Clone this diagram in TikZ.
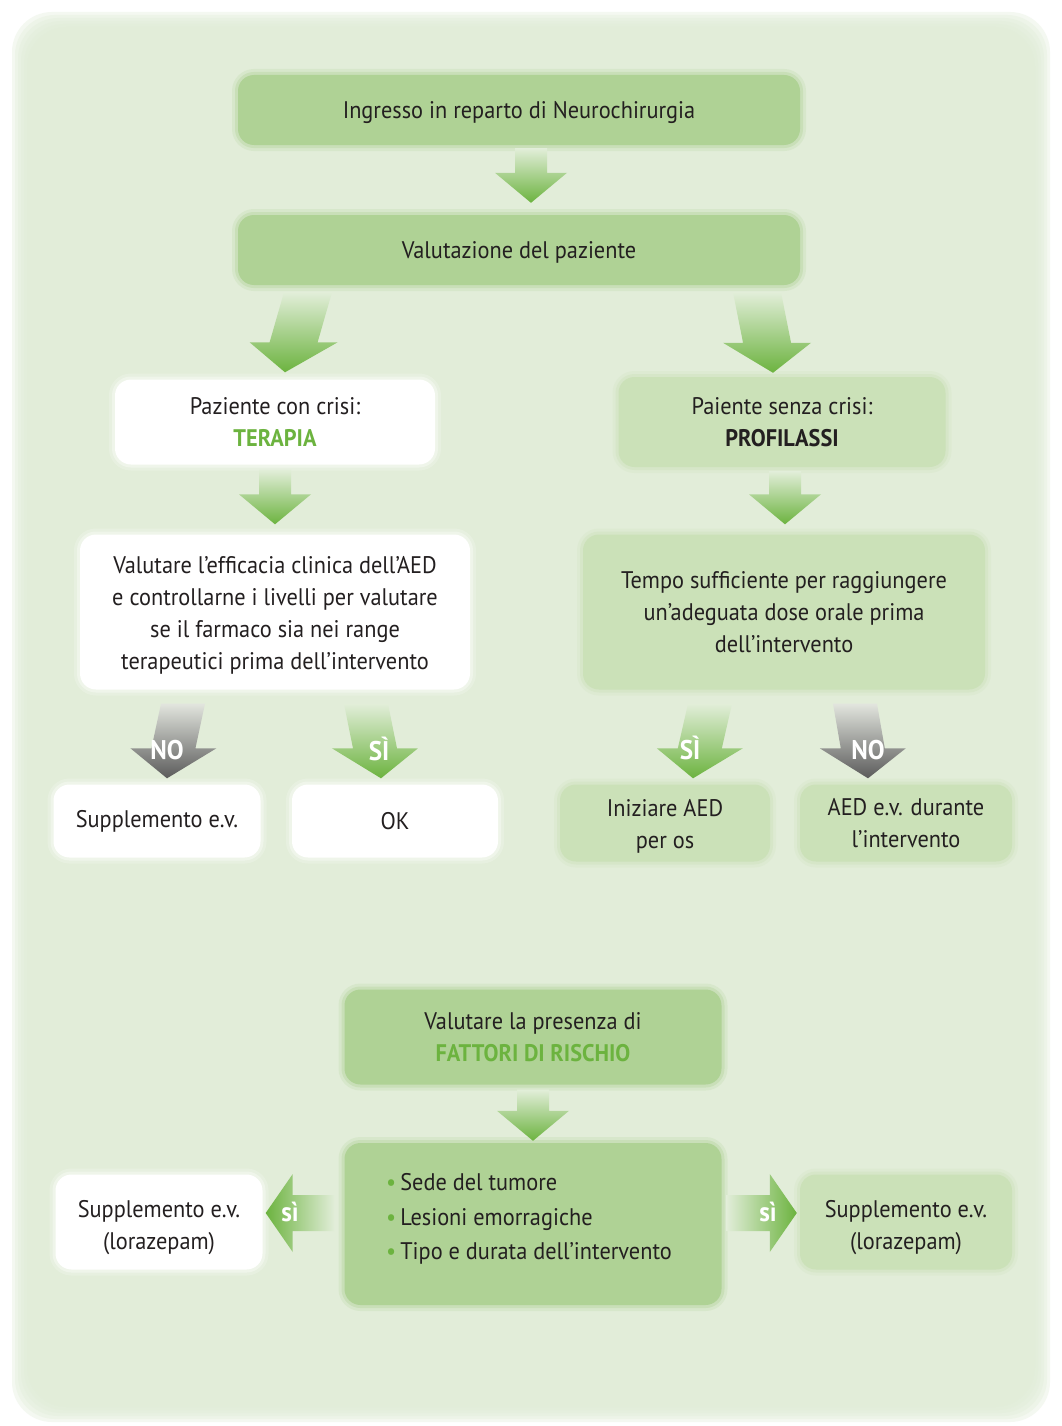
\documentclass[tikz,border=0pt]{standalone}
\usepackage{fontspec}
\setmainfont{PT Sans}[FakeStretch=0.93]
\usetikzlibrary{calc}

\definecolor{bg}{HTML}{E1EDD8}
\definecolor{midgreen}{HTML}{AFD295}
\definecolor{palegreen}{HTML}{CBE1B8}
\definecolor{leaf}{HTML}{6CB33F}
\definecolor{arrowtop}{HTML}{E2EED9}
\definecolor{graytop}{HTML}{E2E5DE}
\definecolor{graybot}{HTML}{5B5B5B}
\definecolor{ink}{HTML}{231F20}

\tikzset{
  box/.style={rounded corners=16, align=center, inner sep=0, text=ink, font=\fontsize{24}{32}\selectfont},
  soft/.style={preaction={draw=#1, draw opacity=.2, line width=12},
               preaction={draw=#1, draw opacity=.35, line width=6}},
  midbox/.style={box, fill=midgreen, soft=midgreen},
  palebox/.style={box, fill=palegreen, soft=palegreen},
  whitebox/.style={box, fill=white, soft=white},
  greenflow/.style={top color=arrowtop, bottom color=leaf},
  grayflow/.style={top color=graytop, bottom color=graybot},
  tag/.style={text=white, inner sep=0, font=\bfseries\fontsize{27}{27}\selectfont},
}

% taller first line, pushes the text down a little
\newcommand{\lowtext}[1]{\rule{0pt}{#1pt}}

% slanted block arrow: [shading]{top centre}{tip}{half shaft}{half head}
\newcommand{\slantarrow}[5][greenflow]{%
  \path[#1] let \p1=#2, \p2=#3, \n1={(\x2-\x1)*(1-30/(\y1-\y2))} in
    ({\x1-#4},\y1) -- ({\x1+#4},\y1) -- ({\x1+(\n1)+#4},{\y2+30}) -- ({\x1+(\n1)+#5},{\y2+30})
    -- (\x2,\y2) -- ({\x1+(\n1)-#5},{\y2+30}) -- ({\x1+(\n1)-#4},{\y2+30}) -- cycle;}
% sideways block arrow
\newcommand{\sidearrow}[5][]{%
  \path[#1] let \p1=#2, \p2=#3, \n1={(\x2-\x1)/abs(\x2-\x1)*27} in
    (\x1,{\y1+#4}) -- ({\x2-(\n1)},{\y1+#4}) -- ({\x2-(\n1)},{\y1+#5}) -- (\x2,\y2)
    -- ({\x2-(\n1)},{\y1-#5}) -- ({\x2-(\n1)},{\y1-#4}) -- (\x1,{\y1-#4}) -- cycle;}

\begin{document}
\begin{tikzpicture}[x=1pt, y=-1pt]
\useasboundingbox (0,0) rectangle (1062,1426);
\fill[white] (0,0) rectangle (1062,1426);
\foreach \i in {0,...,5}
  \fill[bg, opacity=0.35, rounded corners=40] ({12+3*\i},{12+3*\i}) rectangle ({1050-3*\i},{1422-3*\i});

\node[midbox, minimum width=562, minimum height=70] (ingresso) at (519,110) {\lowtext{23}Ingresso in reparto di Neurochirurgia};
\node[midbox, minimum width=562, minimum height=70] (valut) at (519,250) {\lowtext{21}Valutazione del paziente};
\node[whitebox, minimum width=320, minimum height=85] (crisi) at (275,422) {Paziente con crisi:\\\textcolor{leaf}{\bfseries TERAPIA}};
\node[palebox, minimum width=327, minimum height=90] (senza) at (782,422) {Paiente senza crisi:\\\textbf{PROFILASSI}};
\node[whitebox, minimum width=390, minimum height=155] (efficacia) at (275,612) {\lowtext{23}Valutare l’efficacia clinica dell’AED\\e controllarne i livelli per valutare\\se il farmaco sia nei range\\terapeutici prima dell’intervento};
\node[palebox, minimum width=402, minimum height=155] (tempo) at (784,612) {Tempo sufficiente per raggiungere\\un’adeguata dose orale prima\\dell’intervento};
\node[whitebox, minimum width=207, minimum height=73] (suppl) at (157,821) {Supplemento e.v.};
\node[whitebox, minimum width=206, minimum height=73] (ok) at (395,821) {OK};
\node[palebox, minimum width=210, minimum height=77] (iniziare) at (665,823) {\lowtext{23}Iniziare AED\\per os};
\node[palebox, minimum width=212, minimum height=77] (aedev) at (906,823) {AED e.v. durante\\l’intervento};
\node[midbox, minimum width=377, minimum height=95] (fattori) at (533,1037) {Valutare la presenza di\\\textcolor{leaf}{\bfseries FATTORI DI RISCHIO}};
\node[midbox, minimum width=377, minimum height=162] (rischi) at (533,1224) {};
\node[align=left, inner sep=0, text=ink, font=\fontsize{24}{34.5}\selectfont] (elenco) at ($(rischi.center)+(-4,-5)$) {\textcolor{leaf}{\textbullet}\,Sede del tumore\\\textcolor{leaf}{\textbullet}\,Lesioni emorragiche\\\textcolor{leaf}{\textbullet}\,Tipo e durata dell’intervento};
\node[whitebox, minimum width=207, minimum height=95] (supplL) at (159,1222) {\lowtext{29}Supplemento e.v.\\(lorazepam)};
\node[palebox, minimum width=212, minimum height=95] (supplR) at (906,1222) {\lowtext{29}Supplemento e.v.\\(lorazepam)};

\slantarrow{($(ingresso.south)+(12,3)$)}{($(valut.north)+(12,-12)$)}{16}{36}
\slantarrow{($(valut.south)+(-211,7)$)}{($(crisi.north)+(10,-7)$)}{24}{44}
\slantarrow{($(valut.south)+(238,7)$)}{($(senza.north)+(-9,-4)$)}{24}{44}
\slantarrow{($(crisi.south)+(0,5)$)}{($(efficacia.north)+(0,-10)$)}{16}{36}
\slantarrow{($(senza.south)+(3,4)$)}{($(tempo.north)+(1,-10)$)}{16}{36}
\slantarrow[grayflow]{($(efficacia.south)+(-92,14)$)}{($(suppl.north)+(10,-6)$)}{22}{43}
\slantarrow{($(efficacia.south)+(91,14)$)}{($(ok.north)+(-14,-6)$)}{22}{43}
\slantarrow{($(tempo.south)+(-74,14)$)}{($(iniziare.north)+(28,-6)$)}{22}{43}
\slantarrow[grayflow]{($(tempo.south)+(71,14)$)}{($(aedev.north)+(-38,-6)$)}{22}{43}
\slantarrow{($(fattori.south)+(0,5)$)}{($(rischi.north)+(0,-2)$)}{16}{36}
\sidearrow[left color=leaf, right color=bg]{($(rischi.west)+(-10,-11)$)}{($(supplL.east)+(3,-9)$)}{18}{39}
\sidearrow[left color=bg, right color=leaf]{($(rischi.east)+(5,-11)$)}{($(supplR.west)+(-3,-9)$)}{18}{39}

\node[tag] (noA) at (167,750) {NO};
\node[tag] (siA) at (379,749) {SÌ};
\node[tag] (siB) at (690,748) {SÌ};
\node[tag] (noB) at (868,750) {NO};
\node[tag] (siC) at (290,1212) {sì};
\node[tag] (siD) at (768,1212) {sì};
\end{tikzpicture}
\end{document}
